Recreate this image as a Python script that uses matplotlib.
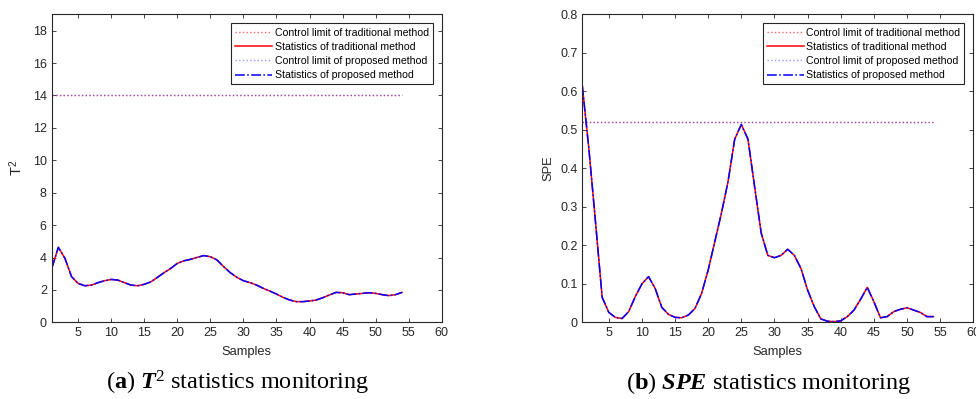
import numpy as np
import matplotlib.pyplot as plt

samples = np.arange(1, 55)

t2_stat = [3.33, 4.63, 3.95, 2.82, 2.40, 2.26, 2.30, 2.45, 2.57, 2.65,
           2.61, 2.45, 2.30, 2.26, 2.35, 2.50, 2.78, 3.07, 3.33, 3.64,
           3.80, 3.89, 4.01, 4.12, 4.05, 3.85, 3.44, 3.07, 2.78, 2.57,
           2.45, 2.30, 2.10, 1.93, 1.75, 1.54, 1.38, 1.28, 1.28, 1.32,
           1.38, 1.52, 1.69, 1.85, 1.83, 1.71, 1.75, 1.79, 1.83, 1.79,
           1.71, 1.65, 1.71, 1.85]
t2_limit = 14.0

spe_stat = [0.615, 0.45, 0.26, 0.065, 0.026, 0.013, 0.010, 0.028, 0.067, 0.100,
            0.119, 0.088, 0.039, 0.021, 0.013, 0.012, 0.019, 0.036, 0.075, 0.136,
            0.210, 0.284, 0.366, 0.476, 0.514, 0.476, 0.353, 0.232, 0.174, 0.168,
            0.174, 0.190, 0.174, 0.140, 0.084, 0.041, 0.009, 0.003, 0.002, 0.004,
            0.015, 0.032, 0.060, 0.091, 0.054, 0.012, 0.015, 0.028, 0.034, 0.038,
            0.032, 0.026, 0.015, 0.015]
spe_limit = 0.52

legend_labels = ['Control limit of traditional method',
                 'Statistics of traditional method',
                 'Control limit of proposed method',
                 'Statistics of proposed method']

plt.rcParams['font.family'] = ['Liberation Sans', 'DejaVu Sans']
plt.rcParams['mathtext.fontset'] = 'custom'
plt.rcParams['mathtext.rm'] = 'Liberation Serif'
plt.rcParams['mathtext.bf'] = 'Liberation Serif:bold'
plt.rcParams['mathtext.it'] = 'Liberation Serif:italic'
plt.rcParams['mathtext.bfit'] = 'Liberation Serif:italic:bold'
plt.rcParams['mathtext.sf'] = 'Liberation Sans'
tc = '#262626'

fig = plt.figure(figsize=(9.76, 3.99), dpi=100)
ax1 = fig.add_axes([0.053, 0.192, 0.3996, 0.772])
ax2 = fig.add_axes([0.5966, 0.192, 0.4006, 0.772])


def draw(ax, stat, limit, ylim, yticks, ylabel):
    lim = np.full(len(samples), limit)
    ax.plot(samples, lim, ':', color='#ff4040', lw=1.0, alpha=0.8,
            label=legend_labels[0])
    ax.plot(samples, stat, '-', color='red', lw=1.1, label=legend_labels[1])
    ax.plot(samples, lim, ':', color='#3030ff', lw=1.0, alpha=0.5,
            label=legend_labels[2])
    ax.plot(samples, stat, '-.', color='blue', lw=1.1, label=legend_labels[3])
    ax.set_xlim(1, 60)
    ax.set_ylim(*ylim)
    ax.set_xticks(np.arange(5, 61, 5))
    ax.set_yticks(yticks)
    ax.tick_params(direction='in', top=True, right=True, labelsize=9,
                   colors=tc, length=3, width=0.6)
    for s in ax.spines.values():
        s.set_color(tc)
        s.set_linewidth(0.8)
    ax.set_xlabel('Samples', fontsize=9.3, color=tc, labelpad=5)
    ax.set_ylabel(ylabel, fontsize=9.3, color=tc)
    leg = ax.legend(loc='upper right', fontsize=7.6, fancybox=False,
                    framealpha=1, edgecolor=tc, borderpad=0.4,
                    labelspacing=0.4, handlelength=3.5, handletextpad=0.2,
                    borderaxespad=0.85)
    leg.get_frame().set_linewidth(0.8)


draw(ax1, t2_stat, t2_limit, (0, 19), np.arange(0, 19, 2),
     r'$\mathsf{T}^{\mathsf{2}}$')
ax1.set_yticklabels([str(v) for v in range(0, 19, 2)])
ax1.yaxis.label.set_fontsize(10.5)
ax1.yaxis.labelpad = 6
draw(ax2, spe_stat, spe_limit, (0, 0.8), np.arange(0, 0.81, 0.1), 'SPE')
ax2.set_yticklabels(['0'] + ['%.1f' % v for v in np.arange(0.1, 0.81, 0.1)])

fig.text(0.243, 0.04, r'($\mathbf{a}$) $\mathbfit{T}^2$ statistics monitoring',
         ha='center', va='center', fontsize=17.5, family='Liberation Serif')
fig.text(0.787, 0.04, r'($\mathbf{b}$) $\mathbfit{SPE}$ statistics monitoring',
         ha='center', va='center', fontsize=17.5, family='Liberation Serif')

fig.savefig('out.png', dpi=100)
